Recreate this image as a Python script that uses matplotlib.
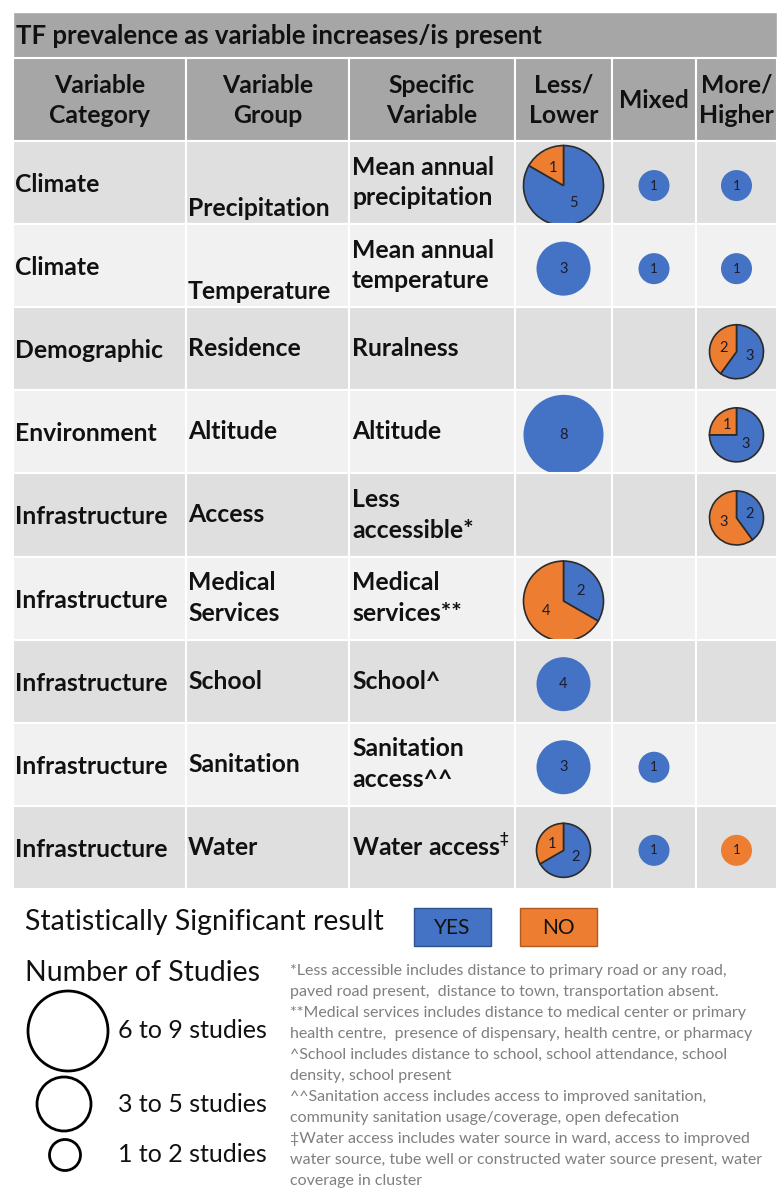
import matplotlib.pyplot as plt
from matplotlib.patches import Rectangle, Circle

plt.rcParams['font.family'] = ['Lato', 'DejaVu Sans']

BLUE = "#4472c4"
ORANGE = "#ed7d31"
HEAD_GRAY = "#a6a6a6"
ROW_DARK = "#dfdfdf"
ROW_LIGHT = "#f1f1f1"

title = "TF prevalence as variable increases/is present"
headers = ["Variable\nCategory", "Variable\nGroup", "Specific\nVariable",
           "Less/\nLower", "Mixed", "More/\nHigher"]

categories = ["Climate", "Climate", "Demographic", "Environment", "Infrastructure",
              "Infrastructure", "Infrastructure", "Infrastructure", "Infrastructure"]
groups = ["Precipitation", "Temperature", "Residence", "Altitude", "Access",
          "Medical\nServices", "School", "Sanitation", "Water"]
variables = ["Mean annual\nprecipitation", "Mean annual\ntemperature", "Ruralness",
             "Altitude", "Less\naccessible*", "Medical\nservices**", "School^",
             "Sanitation\naccess^^", r"Water access$^\ddag$"]

# number of studies per cell: significant (yes) / not significant (no)
less_yes = [5, 3, 0, 8, 0, 2, 4, 3, 2]
less_no = [1, 0, 0, 0, 0, 4, 0, 0, 1]
mixed_yes = [1, 1, 0, 0, 0, 0, 0, 1, 1]
mixed_no = [0, 0, 0, 0, 0, 0, 0, 0, 0]
more_yes = [1, 1, 3, 3, 2, 0, 0, 0, 0]
more_no = [0, 0, 2, 1, 3, 0, 0, 0, 1]

size_labels = ["6 to 9 studies", "3 to 5 studies", "1 to 2 studies"]
size_examples = [7, 4, 1]

footnotes = [
    "*Less accessible includes distance to primary road or any road,",
    "paved road present,  distance to town, transportation absent.",
    "**Medical services includes distance to medical center or primary",
    "health centre,  presence of dispensary, health centre, or pharmacy",
    "^School includes distance to school, school attendance, school",
    "density, school present",
    "^^Sanitation access includes access to improved sanitation,",
    "community sanitation usage/coverage, open defecation",
    "\u2021Water access includes water source in ward, access to improved",
    "water source, tube well or constructed water source present, water",
    "coverage in cluster",
]

# layout (pixels)
col_edges = [13, 186, 349, 515, 612, 696, 777]
title_top, header_top, body_top, row_h = 12, 58, 141, 83.1
group_shift = [26, 26, 0, 0, 0, 0, 0, 0, 0]
FS = 17.8


def radius(n):
    if n >= 6:
        return 40
    if n >= 3:
        return 27
    return 15.5


def draw_pie(ax, x, y, yes, no):
    vals = [v for v in (yes, no) if v > 0]
    if not vals:
        return
    cols = [c for v, c in zip((yes, no), (BLUE, ORANGE)) if v > 0]
    total = sum(vals)
    split = len(vals) > 1
    ax.pie(vals, colors=cols, center=(x, y), radius=radius(total),
           startangle=270, counterclock=True, frame=True,
           autopct=lambda p: f"{p * total / 100:.0f}",
           pctdistance=0.5 if split else 0,
           wedgeprops=dict(edgecolor="#2b2b2b" if split else "none", linewidth=1.2),
           textprops=dict(fontsize=10.5 if total >= 3 else 9.5, color="#1c1c2c"))


fig = plt.figure(figsize=(7.77, 11.9), dpi=100)
ax = fig.add_axes([0, 0, 1, 1])

# title and header band
ax.add_patch(Rectangle((col_edges[0], title_top), col_edges[-1] - col_edges[0],
                       header_top - title_top, facecolor=HEAD_GRAY, edgecolor="white", lw=1))
ax.text(col_edges[0] + 3, (title_top + header_top) / 2 + 1, title,
        fontsize=18.5, fontweight="bold", ha="left", va="center", color="#111111")
for i, h in enumerate(headers):
    x0, x1 = col_edges[i], col_edges[i + 1]
    ax.add_patch(Rectangle((x0, header_top), x1 - x0, body_top - header_top,
                           facecolor=HEAD_GRAY, edgecolor="white", lw=1.5))
    ax.text((x0 + x1) / 2, (header_top + body_top) / 2 + 1, h, fontsize=FS,
            fontweight="bold", ha="center", va="center", linespacing=1.4, color="#111111")

# body rows
for r in range(len(categories)):
    y0 = body_top + r * row_h
    yc = y0 + row_h / 2
    face = ROW_DARK if r % 2 == 0 else ROW_LIGHT
    for i in range(len(headers)):
        x0, x1 = col_edges[i], col_edges[i + 1]
        ax.add_patch(Rectangle((x0, y0), x1 - x0, row_h, facecolor=face,
                               edgecolor="white", lw=1.5))
    ax.text(col_edges[0] + 2, yc + 2, categories[r], fontsize=FS, fontweight="bold",
            ha="left", va="center", color="#111111")
    ax.text(col_edges[1] + 2, yc + group_shift[r], groups[r], fontsize=FS,
            fontweight="bold", ha="left", va="center", linespacing=1.4, color="#111111")
    ax.text(col_edges[2] + 3, yc, variables[r], fontsize=FS, fontweight="bold",
            ha="left", va="center", linespacing=1.4, color="#111111")

    cells = [(less_yes[r], less_no[r]), (mixed_yes[r], mixed_no[r]), (more_yes[r], more_no[r])]
    for k, (yes, no) in enumerate(cells):
        xc = (col_edges[3 + k] + col_edges[4 + k]) / 2
        draw_pie(ax, xc, yc + 3, yes, no)

# significance legend
ax.text(25, 922, "Statistically Significant result", fontsize=20.5, ha="left",
        va="center", color="#111111")
for x0, col, edge, lab in [(414, BLUE, "#2f528f", "YES"), (520, ORANGE, "#ae5a21", "NO")]:
    ax.add_patch(Rectangle((x0, 908), 77, 38, facecolor=col, edgecolor=edge, lw=1))
    ax.text(x0 + 38.5, 928, lab, fontsize=15, ha="center", va="center", color="#111111")

# study-count legend
ax.text(25, 973, "Number of Studies", fontsize=20.5, ha="left", va="center", color="#111111")
for lab, n, cx, cy in zip(size_labels, size_examples, [68, 64, 65], [1031, 1104, 1155]):
    ax.add_patch(Circle((cx, cy), radius(n), facecolor="none", edgecolor="black", lw=2))
    ax.text(118, cy, lab, fontsize=18, ha="left", va="center", color="#111111")

for i, line in enumerate(footnotes):
    ax.text(290, 971 + i * 21, line, fontsize=11.5, ha="left", va="center", color="#7f7f7f")

ax.set_xlim(0, 777)
ax.set_ylim(1190, 0)
ax.set_aspect("auto")
ax.axis("off")

fig.savefig("out.png", dpi=100)
